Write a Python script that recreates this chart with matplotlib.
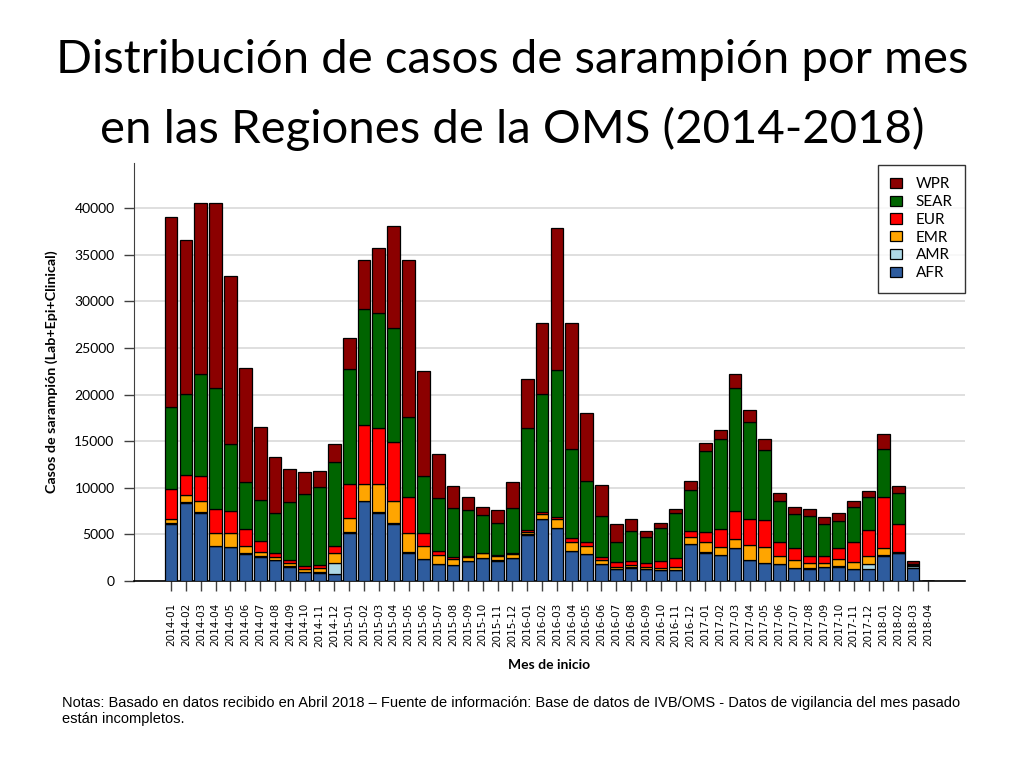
import numpy as np
import matplotlib.pyplot as plt

months = [f"{y}-{m:02d}" for y in range(2014, 2019) for m in range(1, 13)][:52]

afr = [6100, 8400, 7300, 3750, 3600, 2900, 2600, 2250, 1550, 950, 850, 800,
       5100, 8550, 7300, 6150, 3050, 2350, 1800, 1700, 2100, 2450, 2150, 2450,
       4950, 6600, 5650, 3200, 2850, 1800, 1250, 1400, 1250, 1150, 1150, 3950,
       3050, 2750, 3500, 2250, 1900, 1800, 1350, 1300, 1450, 1550, 1250, 1300,
       2700, 2950, 1350, 15]
amr = [100, 50, 50, 50, 50, 50, 50, 50, 50, 50, 100, 1100,
       200, 50, 100, 50, 50, 50, 50, 50, 50, 50, 50, 50,
       50, 50, 50, 50, 50, 50, 50, 50, 50, 50, 50, 50,
       50, 50, 50, 50, 50, 50, 50, 50, 50, 50, 50, 550,
       50, 50, 250, 0]
emr = [500, 750, 1200, 1300, 1450, 850, 500, 300, 300, 250, 450, 1150,
       1450, 1850, 2950, 2350, 2100, 1400, 950, 600, 450, 450, 450, 400,
       300, 550, 950, 950, 850, 450, 250, 250, 250, 200, 350, 750,
       1050, 850, 950, 1550, 1750, 850, 800, 550, 450, 750, 700, 850,
       750, 150, 50, 0]
eur = [3200, 2200, 2700, 2600, 2400, 1750, 1100, 350, 350, 350, 300, 700,
       3600, 6250, 6100, 6400, 3800, 1400, 450, 250, 100, 100, 100, 100,
       150, 250, 250, 400, 450, 300, 450, 450, 400, 700, 900, 650,
       1150, 1900, 3050, 2850, 2800, 1500, 1300, 800, 750, 1200, 2150, 2800,
       5500, 2950, 50, 0]
sear = [8800, 8700, 11000, 13000, 7200, 5050, 4400, 4350, 6250, 7700, 8400, 9000,
        12400, 12500, 12300, 12200, 8550, 6050, 5700, 5200, 4900, 4000, 3500, 4850,
        11000, 12650, 15700, 9600, 6550, 4350, 2150, 3200, 2800, 3600, 4800, 4350,
        8650, 9700, 13100, 10350, 7550, 4400, 3650, 4300, 3400, 2900, 3800, 3550,
        5200, 3350, 150, 0]
wpr = [20300, 16500, 18300, 19800, 18000, 12200, 7850, 5950, 3500, 2400, 1700, 1900,
       3350, 5250, 7000, 10900, 16900, 11300, 4700, 2400, 1420, 900, 1400, 2800,
       5250, 7550, 15250, 13500, 7250, 3350, 1950, 1250, 600, 550, 450, 950,
       850, 950, 1550, 1250, 1150, 850, 800, 700, 800, 800, 650, 550,
       1550, 700, 250, 0]

regions = ["AFR", "AMR", "EMR", "EUR", "SEAR", "WPR"]
series = [afr, amr, emr, eur, sear, wpr]
colors = ["#2E5C9E", "#ADD8E6", "#FFA500", "#FF0000", "#006400", "#8B0000"]

fig = plt.figure(figsize=(10.24, 7.68), dpi=100)
ax = fig.add_axes([134 / 1024, 1 - 581 / 768, (965 - 134) / 1024, (581 - 163) / 768])

x = np.arange(len(months))
bottom = np.zeros(len(months))
handles = []
for name, vals, col in zip(regions, series, colors):
    vals = np.array(vals, dtype=float)
    b = ax.bar(x, vals, 0.86, bottom=bottom, color=col, edgecolor="black",
               linewidth=0.9, label=name, zorder=3)
    handles.append(b)
    bottom += vals

ax.set_ylim(0, 44830)
ax.set_xlim(-2.5, 53.5)
ax.set_yticks(np.arange(0, 40001, 5000))
ax.grid(axis="y", color="#d9d9d9", linewidth=1.2, zorder=0)
ax.set_xticks(x)
ax.set_xticklabels(months, rotation=90, fontsize=7.5, family="DejaVu Sans")
for lab in ax.get_yticklabels():
    lab.set_family("Lato")
    lab.set_fontsize(10)
ax.tick_params(axis="both", direction="out", length=7, width=1, color="#404040")
ax.tick_params(axis="x", pad=9)
ax.tick_params(axis="y", pad=7)
for s in ["top", "right"]:
    ax.spines[s].set_visible(False)
ax.spines["left"].set_color("#404040")
ax.spines["bottom"].set_color("black")
ax.spines["bottom"].set_linewidth(1.2)

ax.set_xlabel("Mes de inicio", fontsize=10, fontweight="bold", family="Lato", labelpad=9)
ax.set_ylabel("Casos de sarampión (Lab+Epi+Clinical)", fontsize=10.3, fontweight="bold",
              family="Lato", labelpad=12)

leg = ax.legend(handles[::-1], regions[::-1], loc="upper right",
                bbox_to_anchor=(1.0, (581 - 165) / (581 - 163)), borderaxespad=0,
                frameon=True, fancybox=False, edgecolor="black",
                prop={"family": "Lato", "size": 11}, handlelength=0.8, handleheight=0.65,
                borderpad=0.8, labelspacing=0.25, handletextpad=0.9)
leg.get_frame().set_linewidth(1.0)

fig.text(0.5, 1 - 73 / 768, "Distribución de casos de sarampión por mes", ha="center",
         va="baseline", fontsize=34, family="Lato")
fig.text(0.5, 1 - 143 / 768, "en las Regiones de la OMS (2014-2018)", ha="center",
         va="baseline", fontsize=34, family="Lato")

fig.text(62 / 1024, 1 - 711 / 768,
         "Notas: Basado en datos recibido en Abril 2018 – Fuente de información: Base de datos de IVB/OMS - Datos de vigilancia del mes pasado\nestán incompletos.",
         ha="left", va="center", fontsize=10.5, family="Liberation Sans", linespacing=1.25)

fig.savefig("out.png", dpi=100)
